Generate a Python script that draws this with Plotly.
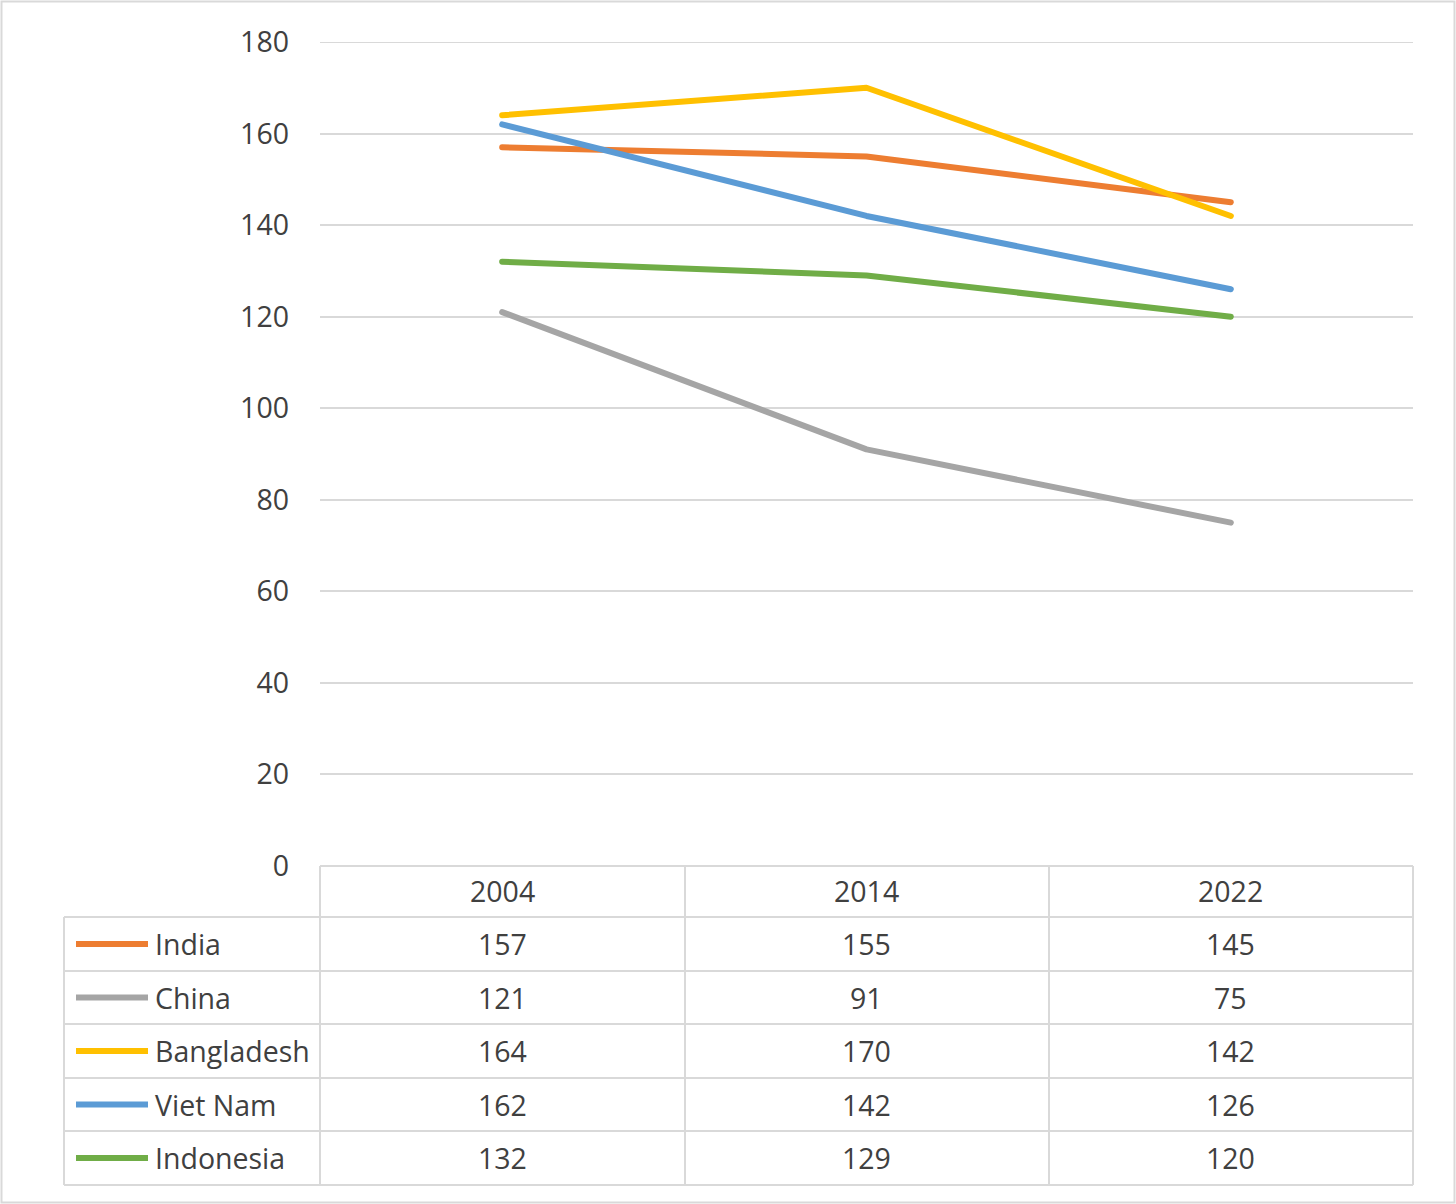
import plotly.graph_objects as go

years = ["2004", "2014", "2022"]
countries = ["India", "China", "Bangladesh", "Viet Nam", "Indonesia"]
india = [157, 155, 145]
china = [121, 91, 75]
bangladesh = [164, 170, 142]
viet_nam = [162, 142, 126]
indonesia = [132, 129, 120]
series = [india, china, bangladesh, viet_nam, indonesia]
colors = ["#ED7D31", "#A5A5A5", "#FFC000", "#5B9BD5", "#70AD47"]
y_ticks = [0, 20, 40, 60, 80, 100, 120, 140, 160, 180]

W, H = 1456, 1204
FONT = "Open Sans"
FS = 28.5
TXT = "#404040"
GRID = "#D9D9D9"


def px(x):
    return x / W


def py(y):
    return 1 - y / H


fig = go.Figure()
xs = list(range(len(years)))
for name, vals, col in zip(countries, series, colors):
    fig.add_trace(go.Scatter(x=xs, y=vals, mode="lines", name=name,
                             line=dict(color=col, width=6),
                             showlegend=False, hoverinfo="skip"))

shapes = []
annotations = []
# outer border
shapes.append(dict(type="rect", xref="paper", yref="paper",
                   x0=px(1.5), x1=px(1454.5), y0=py(1202.5), y1=py(1.5),
                   line=dict(color=GRID, width=2)))
# top gridline (plotly drops the gridline at the range edge)
shapes.append(dict(type="line", xref="x domain", yref="y", x0=0, x1=1,
                   y0=y_ticks[-1], y1=y_ticks[-1], line=dict(color=GRID, width=2), layer="below"))

col_edges = [320, 685, 1049, 1413]
row_edges = [866, 917, 971, 1024, 1078, 1131, 1185]
tbl_left = 64
lc = dict(color=GRID, width=2)
for i, ry in enumerate(row_edges):
    x0 = col_edges[0] if i == 0 else tbl_left
    shapes.append(dict(type="line", xref="paper", yref="paper",
                       x0=px(x0), x1=px(col_edges[-1]), y0=py(ry), y1=py(ry), line=lc))
for cx in col_edges:
    shapes.append(dict(type="line", xref="paper", yref="paper",
                       x0=px(cx), x1=px(cx), y0=py(row_edges[0]), y1=py(row_edges[-1]), line=lc))
shapes.append(dict(type="line", xref="paper", yref="paper",
                   x0=px(tbl_left), x1=px(tbl_left), y0=py(row_edges[1]), y1=py(row_edges[-1]), line=lc))

hy = (row_edges[0] + row_edges[1]) / 2
for i, yr in enumerate(years):
    annotations.append(dict(x=i, xref="x", y=py(hy), yref="paper", text=yr,
                            showarrow=False, font=dict(family=FONT, size=FS, color=TXT),
                            xanchor="center", yanchor="middle"))

for r, (name, vals, col) in enumerate(zip(countries, series, colors)):
    cy = (row_edges[r + 1] + row_edges[r + 2]) / 2
    shapes.append(dict(type="line", xref="paper", yref="paper",
                       x0=px(76), x1=px(148), y0=py(cy), y1=py(cy),
                       line=dict(color=col, width=6)))
    annotations.append(dict(x=px(153), xref="paper", y=py(cy), yref="paper", text=name,
                            showarrow=False, font=dict(family=FONT, size=FS, color=TXT),
                            xanchor="left", yanchor="middle"))
    for i, v in enumerate(vals):
        annotations.append(dict(x=i, xref="x", y=py(cy), yref="paper", text=str(v),
                                showarrow=False, font=dict(family=FONT, size=FS, color=TXT),
                                xanchor="center", yanchor="middle"))

fig.update_layout(
    template="none",
    width=W, height=H, autosize=False,
    margin=dict(l=0, r=0, t=0, b=0, pad=0),
    paper_bgcolor="white", plot_bgcolor="white",
    xaxis=dict(domain=[px(320), px(1413)], range=[-0.5, len(years) - 0.5],
               showgrid=False, zeroline=False, showticklabels=False, showline=False,
               automargin=False, fixedrange=True),
    yaxis=dict(domain=[py(866), py(42)], range=[0, 180], tickvals=y_ticks,
               showgrid=True, gridcolor=GRID, gridwidth=2, zeroline=False,
               showline=False, ticks="", ticklabelstandoff=30, automargin=False,
               fixedrange=True,
               tickfont=dict(family=FONT, size=FS, color=TXT)),
    shapes=shapes, annotations=annotations,
)

post = (
    "document.body.style.margin='0';"
    "document.querySelectorAll('.js-line').forEach(function(p){"
    "p.style.strokeLinecap='round';p.style.strokeLinejoin='round';});"
)
fig.write_html("out.html", config={"displayModeBar": False}, post_script=post)
